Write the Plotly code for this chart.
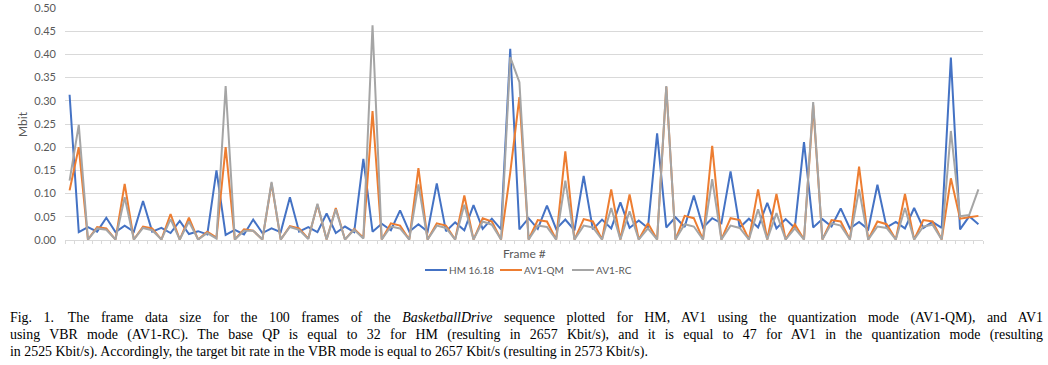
import plotly.graph_objects as go

frames = list(range(1, 101))

hm = [0.313, 0.017, 0.028, 0.018, 0.048, 0.017, 0.031, 0.018, 0.084, 0.018,
      0.026, 0.015, 0.041, 0.013, 0.019, 0.012, 0.150, 0.011, 0.022, 0.012,
      0.044, 0.015, 0.025, 0.017, 0.092, 0.018, 0.028, 0.017, 0.057, 0.015,
      0.029, 0.017, 0.175, 0.018, 0.035, 0.021, 0.064, 0.018, 0.034, 0.018,
      0.122, 0.019, 0.038, 0.021, 0.075, 0.024, 0.046, 0.023, 0.412, 0.023,
      0.047, 0.024, 0.074, 0.024, 0.044, 0.021, 0.138, 0.023, 0.044, 0.025,
      0.081, 0.026, 0.042, 0.026, 0.230, 0.027, 0.049, 0.028, 0.096, 0.027,
      0.047, 0.036, 0.148, 0.027, 0.046, 0.027, 0.080, 0.025, 0.045, 0.026,
      0.211, 0.027, 0.045, 0.029, 0.068, 0.025, 0.039, 0.023, 0.119, 0.027,
      0.039, 0.025, 0.069, 0.026, 0.039, 0.026, 0.393, 0.023, 0.051, 0.034]

av1_qm = [0.107, 0.200, 0.001, 0.028, 0.025, 0.001, 0.121, 0.001, 0.029, 0.025,
          0.001, 0.056, 0.001, 0.048, 0.001, 0.018, 0.005, 0.200, 0.001, 0.023,
          0.020, 0.001, 0.122, 0.001, 0.030, 0.025, 0.003, 0.076, 0.001, 0.069,
          0.001, 0.024, 0.005, 0.278, 0.001, 0.036, 0.031, 0.001, 0.155, 0.001,
          0.036, 0.031, 0.001, 0.096, 0.001, 0.047, 0.040, 0.001, 0.145, 0.308,
          0.001, 0.043, 0.040, 0.001, 0.191, 0.001, 0.045, 0.040, 0.001, 0.109,
          0.001, 0.098, 0.001, 0.036, 0.001, 0.330, 0.001, 0.052, 0.047, 0.001,
          0.203, 0.001, 0.047, 0.043, 0.001, 0.109, 0.001, 0.099, 0.001, 0.034,
          0.001, 0.290, 0.001, 0.043, 0.040, 0.001, 0.158, 0.001, 0.040, 0.034,
          0.001, 0.099, 0.001, 0.043, 0.040, 0.001, 0.133, 0.046, 0.049, 0.052]

av1_rc = [0.128, 0.248, 0.001, 0.025, 0.022, 0.001, 0.092, 0.001, 0.026, 0.021,
          0.001, 0.045, 0.001, 0.040, 0.001, 0.015, 0.003, 0.332, 0.001, 0.020,
          0.020, 0.001, 0.125, 0.001, 0.028, 0.022, 0.002, 0.078, 0.001, 0.066,
          0.001, 0.022, 0.003, 0.463, 0.001, 0.029, 0.025, 0.001, 0.120, 0.001,
          0.031, 0.026, 0.001, 0.076, 0.001, 0.040, 0.033, 0.001, 0.394, 0.340,
          0.001, 0.031, 0.028, 0.001, 0.128, 0.001, 0.031, 0.027, 0.001, 0.069,
          0.001, 0.062, 0.001, 0.025, 0.001, 0.332, 0.001, 0.034, 0.029, 0.001,
          0.131, 0.001, 0.031, 0.026, 0.001, 0.066, 0.001, 0.058, 0.001, 0.025,
          0.001, 0.297, 0.001, 0.036, 0.031, 0.001, 0.109, 0.001, 0.029, 0.026,
          0.001, 0.069, 0.001, 0.029, 0.033, 0.001, 0.235, 0.051, 0.054, 0.109]

series_names = ["HM 16.18", "AV1-QM", "AV1-RC"]
series_colors = ["#4472C4", "#ED7D31", "#A5A5A5"]

caption_lines = [
    "Fig. 1.\u2003The frame data size for the 100 frames of the <i>BasketballDrive</i> sequence plotted for HM, AV1 using the quantization mode (AV1-QM), and AV1",
    "using VBR mode (AV1-RC). The base QP is equal to 32 for HM (resulting in 2657 Kbit/s), and it is equal to 47 for AV1 in the quantization mode (resulting",
    "in 2525 Kbit/s). Accordingly, the target bit rate in the VBR mode is equal to 2657 Kbit/s (resulting in 2573 Kbit/s).",
]

W, H = 1048, 365
L, R, T, B = 65, 65, 8, 125
plot_w = W - L - R
plot_h = H - T - B


def px(pix):
    return (pix - L) / plot_w


def py(pix):
    return (H - B - pix) / plot_h


fig = go.Figure()
for name, ys, col in zip(series_names, [hm, av1_qm, av1_rc], series_colors):
    fig.add_trace(go.Scatter(x=frames, y=ys, mode="lines", name=name,
                             line=dict(color=col, width=2)))

annotations = [
    dict(text="Mbit", xref="paper", yref="paper", x=px(22), y=py(124),
         xanchor="center", yanchor="middle", textangle=-90, showarrow=False,
         font=dict(family="Lato, Liberation Sans", size=12, color="#595959")),
    dict(text="Frame #", xref="paper", yref="paper", x=px(524), y=py(253),
         xanchor="center", yanchor="middle", showarrow=False,
         font=dict(family="Lato, Liberation Sans", size=12, color="#595959")),
]
for k, line in enumerate(caption_lines):
    annotations.append(dict(text=line, xref="paper", yref="paper",
                            x=px(8), y=py(318 + 17 * k),
                            xanchor="left", yanchor="middle", showarrow=False,
                            font=dict(family="Liberation Serif", size=13.9, color="#000000")))

fig.update_layout(
    width=W, height=H,
    margin=dict(l=L, r=R, t=T, b=B, autoexpand=False),
    paper_bgcolor="white", plot_bgcolor="white",
    showlegend=True, hovermode=False,
    legend=dict(orientation="h", x=px(525), xanchor="center",
                y=py(270), yanchor="middle",
                font=dict(family="Lato, Liberation Sans", size=10, color="#595959"),
                itemwidth=30, tracegroupgap=0),
    xaxis=dict(range=[0.5, 100.5], showticklabels=False, showgrid=False,
               zeroline=False, showline=True, linecolor="#D9D9D9", linewidth=1,
               ticks="outside", tick0=0.5, dtick=1, ticklen=3, tickcolor="#D9D9D9",
               automargin=False),
    yaxis=dict(range=[0, 0.5], dtick=0.05, tickformat=".2f", showgrid=True,
               gridcolor="#D9D9D9", gridwidth=1, zeroline=False, showline=False,
               ticks="", ticklabelstandoff=8, automargin=False,
               tickfont=dict(family="Lato, Liberation Sans", size=11, color="#595959")),
    annotations=annotations,
)

# Remove the default page margin, justify the first two caption lines,
# and use short Excel-like legend line samples.
post_js = """
document.body.style.margin = '0';
var gd = document.getElementById('{plot_id}');
var target = 1033;
gd.querySelectorAll('.annotation-text').forEach(function(t) {
  var s = t.textContent;
  if (s.indexOf('Fig. 1.') === 0 || s.indexOf('using VBR') === 0) {
    var b0 = t.getBBox();
    t.setAttribute('text-anchor', 'start');
    t.style.textAnchor = 'start';
    t.setAttribute('x', b0.x);
    t.style.wordSpacing = '5px';
    var w1 = t.getBBox().width;
    var per = (w1 - b0.width) / 5;
    if (per > 0) {
      t.style.wordSpacing = ((target - b0.width) / per) + 'px';
    }
  }
});
var starts = [425, 500, 572];
gd.querySelectorAll('.legend .traces').forEach(function(g, i) {
  var path = g.querySelector('.legendlines path');
  var txt = g.querySelector('.legendtext');
  if (!path || !txt || i >= starts.length) return;
  var tr = g.getAttribute('transform') || '';
  var m = /translate\\(\\s*([-\\d.e]+)[\\s,]*([-\\d.e]+)?\\s*\\)/.exec(tr);
  var tx = m ? parseFloat(m[1]) : 0, ty = m && m[2] ? parseFloat(m[2]) : 0;
  var r = path.getBoundingClientRect();
  var delta = starts[i] - r.left;
  path.setAttribute('d', 'M5,0h22');
  txt.setAttribute('x', 29);
  g.setAttribute('transform', 'translate(' + (tx + delta) + ',' + ty + ')');
});
"""

fig.write_html("out.html", post_script=post_js, config={"displayModeBar": False})
